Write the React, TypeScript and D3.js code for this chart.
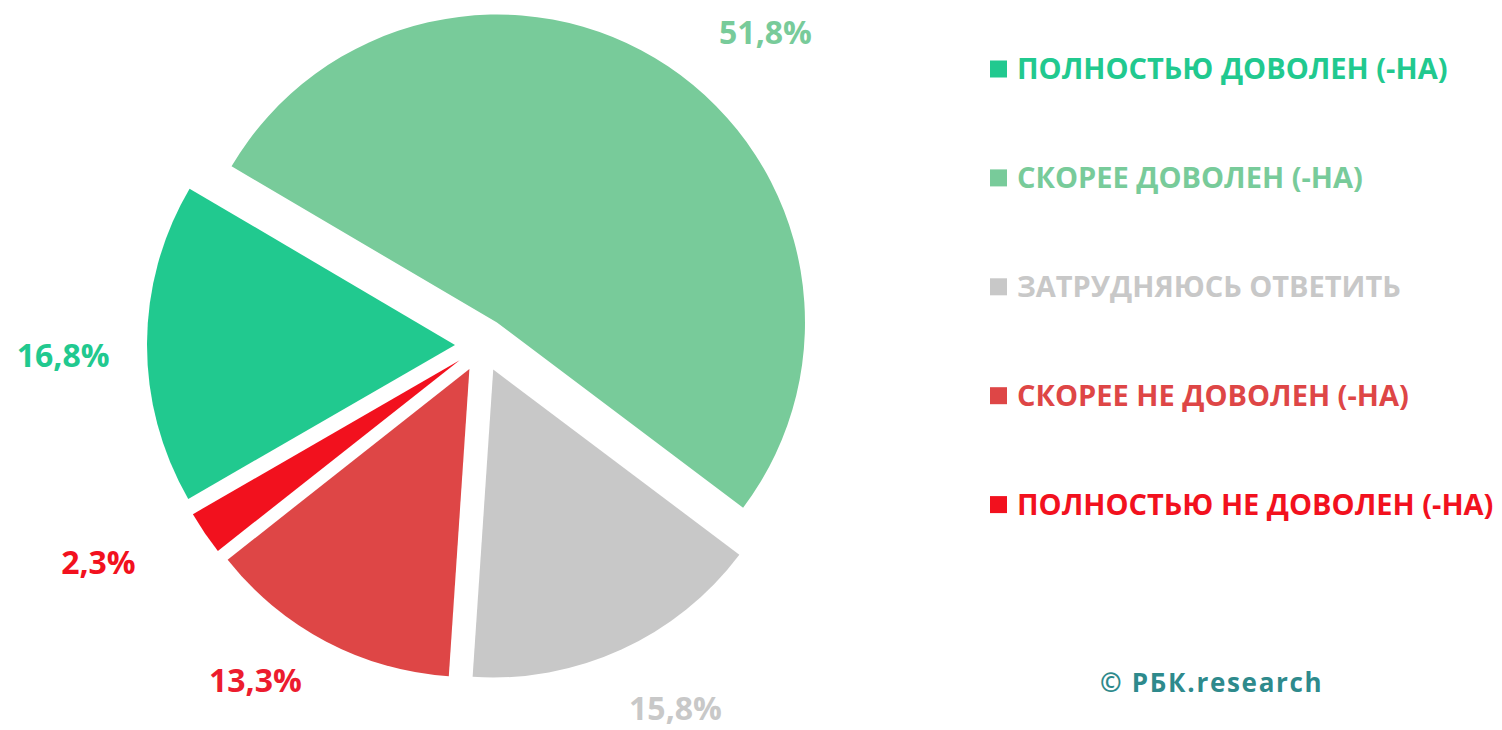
import React from "react";
import * as d3 from "d3";

// ---- data ----
const categories = [
  "ПОЛНОСТЬЮ ДОВОЛЕН (-НА)",
  "СКОРЕЕ ДОВОЛЕН (-НА)",
  "ЗАТРУДНЯЮСЬ ОТВЕТИТЬ",
  "СКОРЕЕ НЕ ДОВОЛЕН (-НА)",
  "ПОЛНОСТЬЮ НЕ ДОВОЛЕН (-НА)",
];
const values = [16.8, 51.8, 15.8, 13.3, 2.3];
const valueLabels = ["16,8%", "51,8%", "15,8%", "13,3%", "2,3%"];
const sliceColors = ["#21C98F", "#78CB9A", "#C8C8C8", "#DE4646", "#F2111E"];
const labelColors = ["#21C98F", "#78CB9A", "#C8C8C8", "#EC1C2E", "#F2111E"];
const creditText = "© РБК.research";

// ---- layout ----
const W = 1502;
const H = 730;
const CX = 482;
const CY = 345;
const R = 308;
const EXPLODE = 27;
const START_DEG = -120;
const FONT = "'Open Sans', 'DejaVu Sans', sans-serif";
const LABEL_FS = 32;
// per-label polar placement relative to the exploded slice apex: [angle shift deg, distance]
const LABEL_POLAR: [number, number][] = [
  [-1.8, 392],
  [9.1, 395],
  [-3.65, 385],
  [6.7, 378],
  [4.9, 414],
];
const LEGEND_X = 990;
const LEGEND_Y0 = 69;
const LEGEND_STEP = 108.9;
const LEGEND_SQ = 17;
const LEGEND_FS = 29;

const rad = (deg: number) => (deg * Math.PI) / 180;

export default function App() {
  const start = rad(START_DEG);
  const pie = d3
    .pie<number>()
    .sort(null)
    .value((d) => d)
    .startAngle(start)
    .endAngle(start + 2 * Math.PI);
  const arcs = pie(values);
  const arc = d3.arc<d3.PieArcDatum<number>>().innerRadius(0).outerRadius(R);

  return (
    <svg
      width={W}
      height={H}
      style={{ position: "absolute", left: 0, top: 0, background: "#fff" }}
      fontFamily={FONT}
    >
      <g transform={`translate(${CX},${CY})`}>
        {arcs.map((a, i) => {
          const mid = (a.startAngle + a.endAngle) / 2;
          const ox = EXPLODE * Math.sin(mid);
          const oy = -EXPLODE * Math.cos(mid);
          const [shift, dist] = LABEL_POLAR[i];
          const la = mid + rad(shift);
          const lx = ox + dist * Math.sin(la);
          const ly = oy - dist * Math.cos(la);
          return (
            <g key={i}>
              <path d={arc(a) || ""} transform={`translate(${ox},${oy})`} fill={sliceColors[i]} />
              <text
                x={lx}
                y={ly + LABEL_FS * 0.357}
                textAnchor="middle"
                fontSize={LABEL_FS}
                fontWeight={700}
                fill={labelColors[i]}
              >
                {valueLabels[i]}
              </text>
            </g>
          );
        })}
      </g>
      <g>
        {categories.map((c, i) => {
          const cy = LEGEND_Y0 + i * LEGEND_STEP;
          return (
            <g key={c}>
              <rect
                x={LEGEND_X}
                y={cy - LEGEND_SQ / 2}
                width={LEGEND_SQ}
                height={LEGEND_SQ}
                fill={sliceColors[i]}
              />
              <text
                x={LEGEND_X + LEGEND_SQ + 10}
                y={cy + LEGEND_FS * 0.357}
                fontSize={LEGEND_FS}
                fontWeight={700}
                fill={sliceColors[i]}
              >
                {c}
              </text>
            </g>
          );
        })}
      </g>
      <text
        x={1100}
        y={683 + 26 * 0.357}
        fontSize={26}
        fontWeight={700}
        letterSpacing={1.7}
        fill="#2E8A8C"
      >
        {creditText}
      </text>
    </svg>
  );
}
